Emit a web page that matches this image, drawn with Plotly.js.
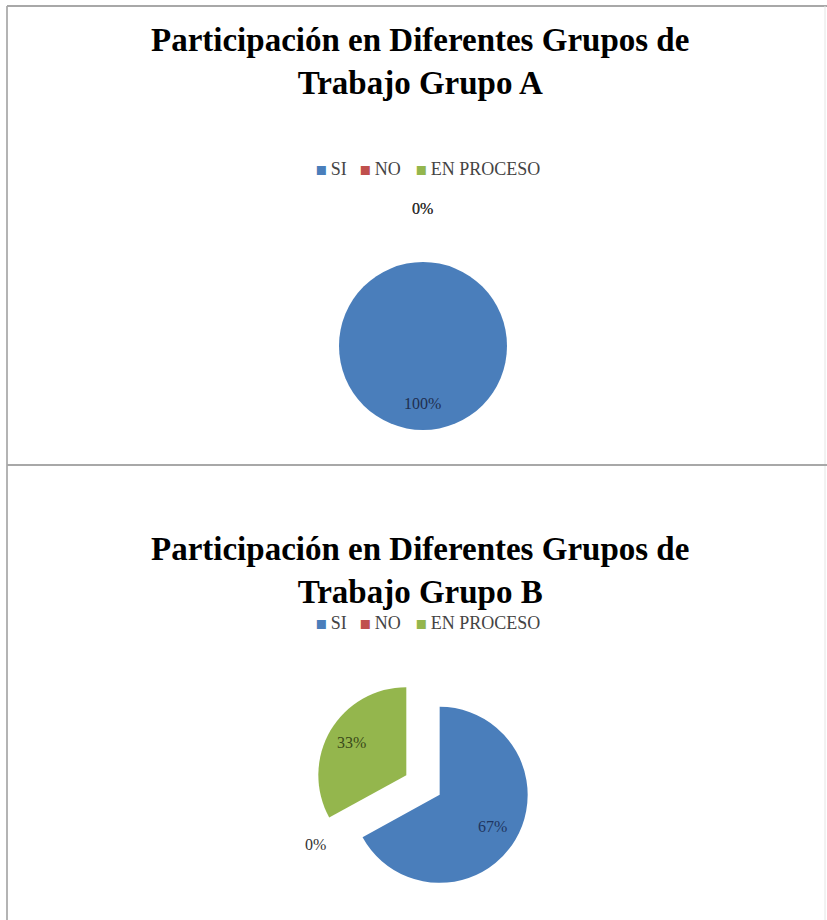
<!DOCTYPE html>
<html>
<head>
<meta charset="utf-8">
<script src="https://cdn.plot.ly/plotly-3.0.1.min.js"></script>
<style>html,body{margin:0;padding:0;background:#fff;}</style>
</head>
<body>
<div id="chart" style="width:827px;height:920px;"></div>
<script>
// ---- data ----
const categories = ['SI', 'NO', 'EN PROCESO'];
const valuesA = [100, 0, 0];
const valuesB = [67, 0, 33];
const titleA = 'Participación en Diferentes Grupos de<br>Trabajo Grupo A';
const titleB = 'Participación en Diferentes Grupos de<br>Trabajo Grupo B';

// ---- styles / layout constants ----
const W = 827, H = 920;
const colors = ['#4A7EBB', '#C0504D', '#94B64D'];
const serif = 'Liberation Serif';

// pie geometry (pixels)
const pieA = {cx: 423, cy: 346, r: 84, pull: [0, 0, 0]};
const pieB = {cx: 423, cy: 785, r: 88, pull: [0.22, 0, 0.22]};
// label radius factors (fraction of radius) per slice
const rfA = [0.69, 1.64, 1.64];
const rfB = [0.70, 1.40, 0.72];
const labelColorsA = ['#1F2F4F', '#333333', '#333333'];
const labelColorsB = ['#1F3560', '#333333', '#3A4A1A'];
// legend item left edges (pixels) and centre rows
const legendX = [313, 357, 413];
const legendRowsY = [168, 622];

function domainOf(p) {
  const maxPull = Math.max.apply(null, p.pull);
  const half = p.r * (1 + maxPull);
  return {
    x: [(p.cx - half) / W, (p.cx + half) / W],
    y: [1 - (p.cy + half) / H, 1 - (p.cy - half) / H]
  };
}

function labels(p, values, rf, cols) {
  const total = values.reduce((a, b) => a + b, 0);
  let cum = 0;
  const out = [];
  values.forEach((v, i) => {
    const mid = (cum + v / 2) / total * 2 * Math.PI;
    cum += v;
    const sx = Math.sin(mid), sy = -Math.cos(mid);
    const ox = p.cx + sx * p.pull[i] * p.r;
    const oy = p.cy + sy * p.pull[i] * p.r;
    const px = ox + sx * rf[i] * p.r;
    const py = oy + sy * rf[i] * p.r;
    out.push({
      x: px / W, y: 1 - py / H, xref: 'paper', yref: 'paper',
      text: Math.round(v / total * 100) + '%',
      showarrow: false, xanchor: 'center', yanchor: 'middle',
      font: {family: serif, size: 16, color: cols[i]}
    });
  });
  return out;
}

function legendItems(rowY) {
  return categories.map((c, i) => ({
    x: legendX[i] / W, y: 1 - rowY / H, xref: 'paper', yref: 'paper',
    xanchor: 'left', yanchor: 'middle', showarrow: false,
    text: '<span style="color:' + colors[i] + ';font-family:DejaVu Sans">▪</span>\u2009' + c,
    font: {family: serif, size: 18, color: '#444444'}
  }));
}

const traceA = {
  type: 'pie', labels: categories, values: valuesA, sort: false,
  direction: 'clockwise', rotation: 0, textinfo: 'none', hoverinfo: 'label+percent',
  marker: {colors: colors, line: {width: 0}},
  pull: pieA.pull, domain: domainOf(pieA), showlegend: false
};
const traceB = {
  type: 'pie', labels: categories, values: valuesB, sort: false,
  direction: 'clockwise', rotation: 0, textinfo: 'none', hoverinfo: 'label+percent',
  marker: {colors: colors, line: {width: 0}},
  pull: pieB.pull, domain: domainOf(pieB), showlegend: false
};

const annotations = [
  {x: 0.508, y: 1 - 61 / H, xref: 'paper', yref: 'paper', text: '<b>' + titleA + '</b>',
   showarrow: false, xanchor: 'center', yanchor: 'middle',
   font: {family: serif, size: 33, color: '#000'}},
  {x: 0.508, y: 1 - 570 / H, xref: 'paper', yref: 'paper', text: '<b>' + titleB + '</b>',
   showarrow: false, xanchor: 'center', yanchor: 'middle',
   font: {family: serif, size: 33, color: '#000'}}
].concat(
  legendItems(legendRowsY[0]), legendItems(legendRowsY[1]),
  labels(pieA, valuesA, rfA, labelColorsA), labels(pieB, valuesB, rfB, labelColorsB)
);

const shapes = [
  {type: 'line', xref: 'paper', yref: 'paper', x0: 7 / W, x1: 7 / W, y0: 0, y1: 1 - 6 / H, line: {color: '#b4b4b4', width: 2}},
  {type: 'line', xref: 'paper', yref: 'paper', x0: 7 / W, x1: 1, y0: 1 - 6 / H, y1: 1 - 6 / H, line: {color: '#a8a8a8', width: 2}},
  {type: 'line', xref: 'paper', yref: 'paper', x0: 825 / W, x1: 825 / W, y0: 0, y1: 1 - 6 / H, line: {color: '#e4e4e4', width: 1}},
  {type: 'line', xref: 'paper', yref: 'paper', x0: 7 / W, x1: 1, y0: 1 - 465 / H, y1: 1 - 465 / H, line: {color: '#a8a8a8', width: 2}}
];

const layout = {
  width: W, height: H,
  margin: {l: 0, r: 0, t: 0, b: 0},
  paper_bgcolor: '#fff', plot_bgcolor: '#fff',
  showlegend: false,
  annotations: annotations,
  shapes: shapes
};

Plotly.newPlot('chart', [traceA, traceB], layout, {displayModeBar: false, staticPlot: true});
</script>
</body>
</html>
